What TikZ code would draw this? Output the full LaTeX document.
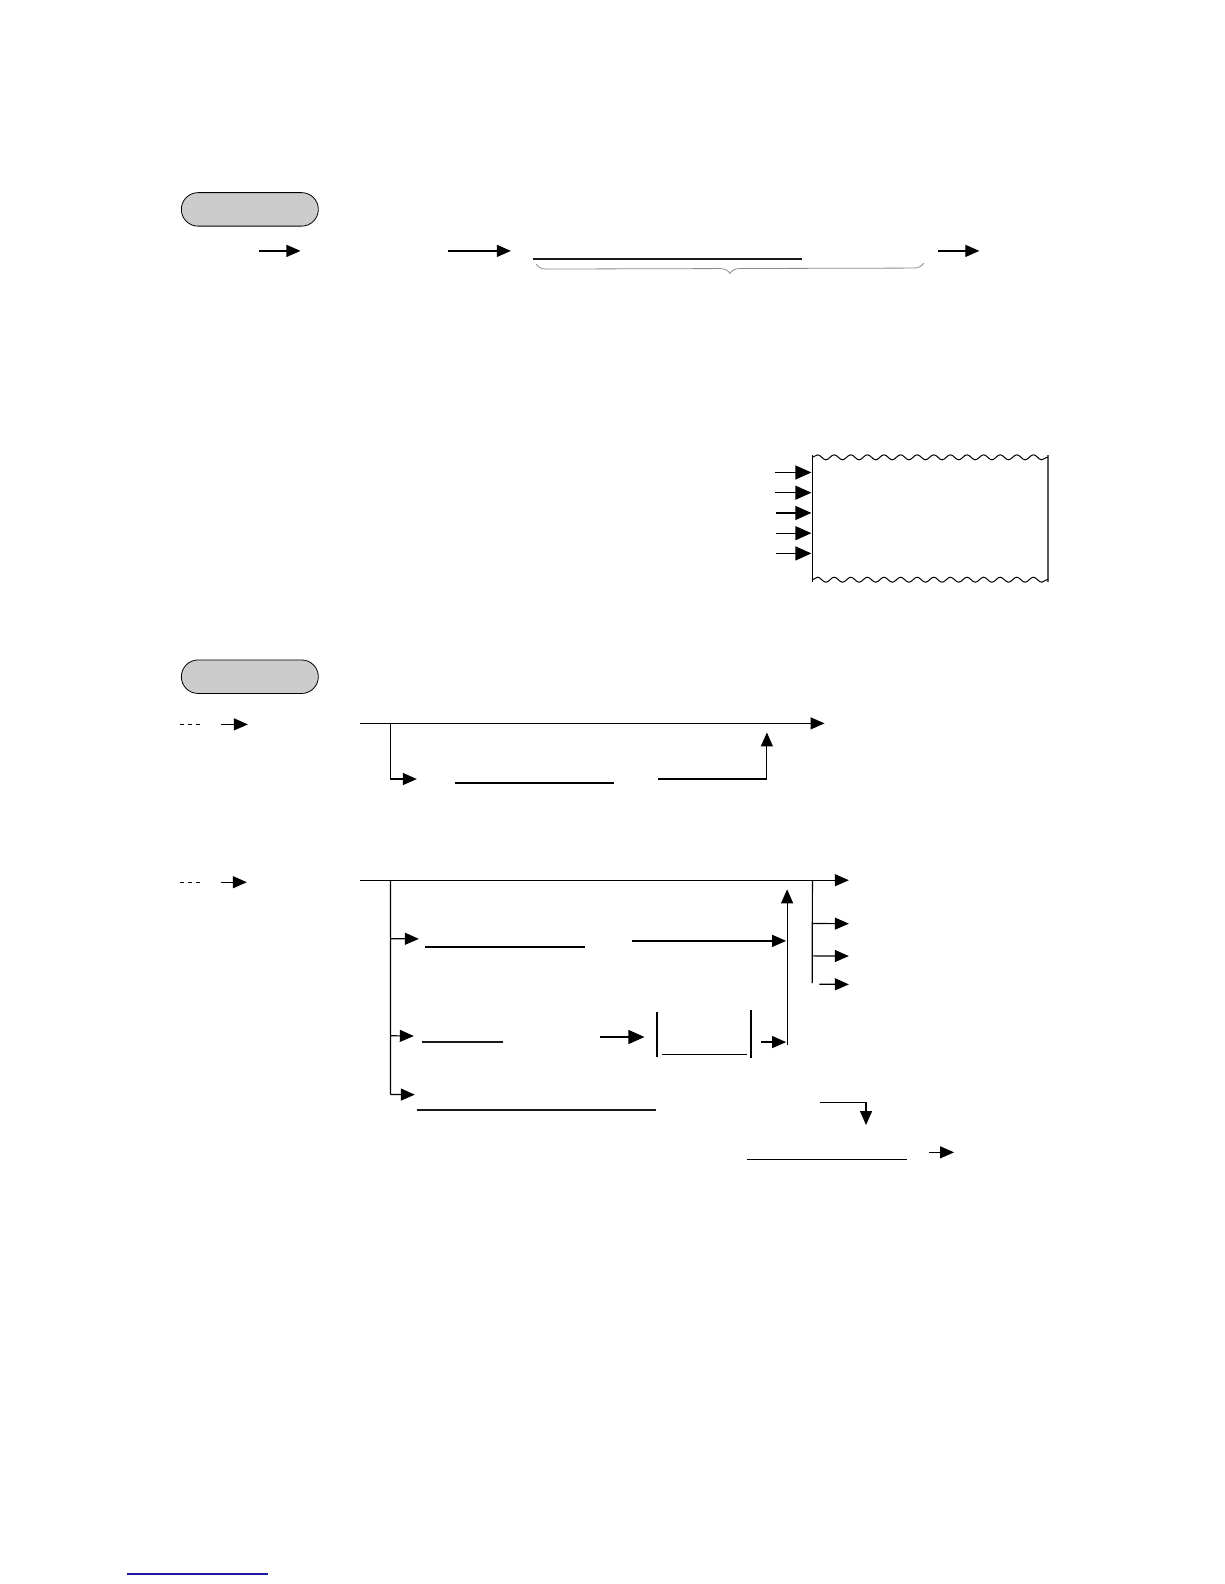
\documentclass[tikz,border=0pt]{standalone}
\usetikzlibrary{arrows.meta,decorations.pathmorphing,decorations.pathreplacing,shapes.misc}
\definecolor{pillgray}{HTML}{CCCCCC}
\definecolor{linkblue}{HTML}{1A1AA0}
\tikzset{
  ln/.style={line width=1.2pt,black},
  arr/.style={ln,-{Triangle[length=14pt,width=12pt]}},
  bigarr/.style={ln,-{Triangle[length=16pt,width=14pt]}},
  thick line/.style={line width=2.4pt,black!90},
  pill/.style={draw=black,line width=0.8pt,fill=pillgray,rounded rectangle,minimum width=137pt,minimum height=33.5pt,inner sep=0pt},
  wavy/.style={line width=1pt,decorate,decoration={snake,segment length=16.6pt,amplitude=2.5pt}},
  dashln/.style={line width=1pt,dash pattern=on 4pt off 4pt}
}
\begin{document}
\begin{tikzpicture}[x=1pt,y=-1pt]
\useasboundingbox (0,0) rectangle (1224,1584);
\begin{scope}[scale=1.0115]
% ---------- top section ----------
\node[pill] (p1) at (247,207) {};
\coordinate (a1s) at (256,248); \coordinate (a1e) at (297,248);
\draw[arr] (a1s) -- (a1e);
\coordinate (a2s) at (443,248); \coordinate (a2e) at (505,248);
\draw[arr] (a2s) -- (a2e);
\coordinate (t1s) at (527,256); \coordinate (t1e) at (793,256);
\draw[thick line] (t1s) -- (t1e);
\coordinate (br1) at (913,260); \coordinate (br2) at (530,261);
\draw[black!45,line width=0.8pt,decorate,decoration={brace,amplitude=10pt,aspect=0.5}] (br1) -- (br2);
\coordinate (a3s) at (927,248); \coordinate (a3e) at (968,248);
\draw[arr] (a3s) -- (a3e);
% ---------- receipt ----------
\coordinate (rTL) at (803,452); \coordinate (rTR) at (1036,452);
\coordinate (rBL) at (803,573); \coordinate (rBR) at (1036,573);
\draw[line width=1.2pt] (803,450) -- (803,575);
\draw[line width=1.2pt,gray!70!black] (1036,450) -- (1036,575);
\draw[wavy] (rTL) -- (rTR);
\draw[wavy] (rBL) -- (rBR);
\foreach \yy/\xx in {467/766,487/766,507/767,527/767,547/767}{
  \coordinate (rs\yy) at (\xx,\yy);
  \coordinate (re\yy) at (802,\yy);
  \draw[bigarr] (rs\yy) -- (re\yy);
}
% ---------- second pill ----------
\node[pill] (p2) at (247,669) {};
% ---------- section 2 ----------
\coordinate (d1s) at (178,716); \coordinate (d1e) at (198,716);
\draw[dashln] (d1s) -- (d1e);
\coordinate (b1s) at (218,716); \coordinate (b1e) at (245,716);
\draw[arr] (b1s) -- (b1e);
\coordinate (m1s) at (356,715); \coordinate (m1e) at (815,715);
\draw[arr] (m1s) -- (m1e);
\coordinate (j1) at (386,715); \coordinate (k1) at (412,770);
\draw[arr] (j1) |- (k1);
\coordinate (u1s) at (450,774); \coordinate (u1e) at (607,774);
\draw[ln] (u1s) -- (u1e);
\coordinate (r1s) at (650,770); \coordinate (r1e) at (758,724);
\draw[arr] (r1s) -| (r1e);
% ---------- section 3 ----------
\coordinate (d2s) at (178,872); \coordinate (d2e) at (198,872);
\draw[dashln] (d2s) -- (d2e);
\coordinate (b2s) at (218,872); \coordinate (b2e) at (244,872);
\draw[arr] (b2s) -- (b2e);
\coordinate (m2s) at (356,870); \coordinate (m2e) at (839,870);
\draw[arr] (m2s) -- (m2e);
\coordinate (j2) at (386,870);
\coordinate (k2a) at (414,928); \coordinate (k2b) at (409,1024); \coordinate (k2c) at (410,1082);
\draw[ln] (j2) -- (386,1082);
\draw[arr] (386,928) -- (k2a);
\draw[arr] (386,1024) -- (k2b);
\draw[arr] (386,1082) -- (k2c);
% first branch
\coordinate (u2s) at (420,936); \coordinate (u2e) at (578,936);
\draw[ln] (u2s) -- (u2e);
\coordinate (r2s) at (625,930); \coordinate (r2e) at (777,930);
\draw[arr] (r2s) -- (r2e);
% return riser
\coordinate (v1s) at (778,1033); \coordinate (v1e) at (778,879);
\draw[arr] (v1s) -- (v1e);
% second branch
\coordinate (u3s) at (417,1030); \coordinate (u3e) at (497,1030);
\draw[thick line] (u3s) -- (u3e);
\coordinate (r3s) at (593,1025); \coordinate (r3e) at (637,1025);
\draw[bigarr] (r3s) -- (r3e);
\coordinate (bar1t) at (649,1000); \coordinate (bar1b) at (649,1045);
\coordinate (bar2t) at (742,998); \coordinate (bar2b) at (742,1046);
\draw[line width=2pt] (bar1t) -- (bar1b);
\draw[line width=2pt] (bar2t) -- (bar2b);
\coordinate (u4s) at (654,1042); \coordinate (u4e) at (738,1042);
\draw[ln] (u4s) -- (u4e);
\coordinate (r4s) at (752,1030); \coordinate (r4e) at (777,1030);
\draw[arr] (r4s) -- (r4e);
% right outputs
\coordinate (j3) at (803,870);
\draw[ln] (j3) -- (803,972);
\coordinate (o1) at (839,913); \coordinate (o2) at (839,945); \coordinate (o3) at (839,973);
\draw[arr] (803,913) -- (o1);
\draw[arr] (803,945) -- (o2);
\draw[arr] (810,973) -- (o3);
% third branch
\coordinate (u5s) at (412,1097); \coordinate (u5e) at (648,1097);
\draw[thick line] (u5s) -- (u5e);
\coordinate (r5s) at (810,1090); \coordinate (r5e) at (856,1112);
\draw[arr] (r5s) -| (r5e);
\coordinate (u6s) at (738,1146); \coordinate (u6e) at (896,1146);
\draw[ln] (u6s) -- (u6e);
\coordinate (r6s) at (918,1139); \coordinate (r6e) at (943,1139);
\draw[arr] (r6s) -- (r6e);
\end{scope}
% ---------- bottom link underline ----------
\coordinate (lk1) at (127,1574); \coordinate (lk2) at (268,1574);
\draw[linkblue,line width=1.2pt] (lk1) -- (lk2);
\end{tikzpicture}
\end{document}
